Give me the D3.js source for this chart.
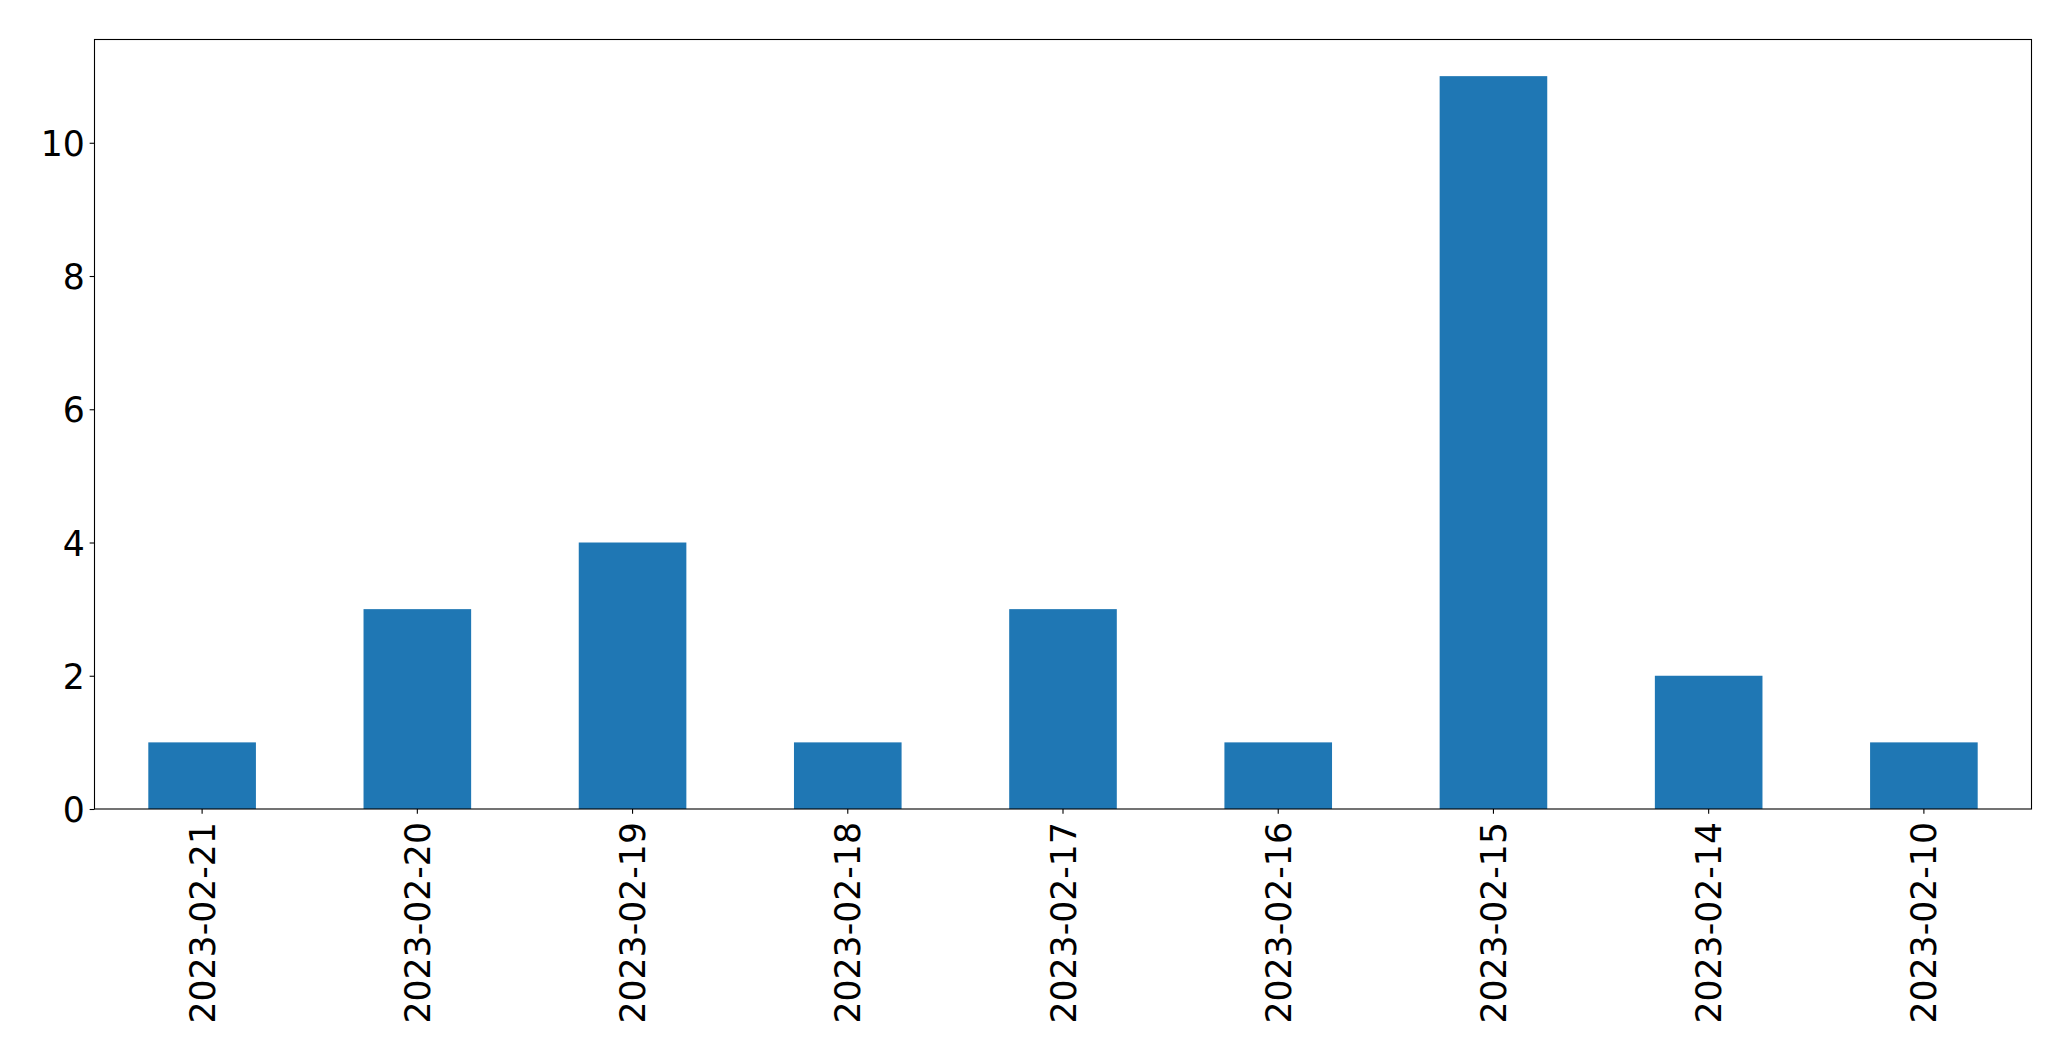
<!DOCTYPE html>
<html><head><meta charset="utf-8">
<script src="https://cdn.jsdelivr.net/npm/d3@7"></script>
<style>html,body{margin:0;padding:0;background:#fff;} svg{display:block;}</style>
</head><body>
<script>
const categories = ["2023-02-21","2023-02-20","2023-02-19","2023-02-18","2023-02-17","2023-02-16","2023-02-15","2023-02-14","2023-02-10"];
const values = [1,3,4,1,3,1,11,2,1];
const yTicks = [0,2,4,6,8,10];

(function(){
const W = 2071, H = 1061;
const mLeft = 94.5, mRight = 2031.5, mTop = 39.5, mBottom = 809;
const fontSize = 34.7;
const font = "'DejaVu Sans', sans-serif";

const svg = d3.select("body").append("svg").attr("width", W).attr("height", H);

const x = d3.scaleBand().domain(categories).range([mLeft, mRight]).paddingInner(0.5).paddingOuter(0.25);
const y = d3.scaleLinear().domain([0, 11.55]).range([mBottom, mTop]);

svg.append("g").selectAll("rect").data(values).join("rect")
  .attr("x", (d,i) => x(categories[i]))
  .attr("width", x.bandwidth())
  .attr("y", d => y(d))
  .attr("height", d => y(0) - y(d))
  .attr("fill", "#1f77b4");

const tickLen = 4.86;
const yAxis = svg.append("g").attr("transform", `translate(${mLeft},0)`)
  .call(d3.axisLeft(y).tickValues(yTicks).tickSize(tickLen).tickPadding(4.86).tickFormat(d3.format("d")));
yAxis.select(".domain").remove();
yAxis.selectAll("line").attr("stroke", "#000").attr("stroke-width", 1.1);
yAxis.selectAll("text").attr("font-family", font).attr("font-size", fontSize).attr("fill", "#000").attr("dy", "0.36em");

const xAxis = svg.append("g").attr("transform", `translate(0,${mBottom})`)
  .call(d3.axisBottom(x).tickSize(tickLen).tickPadding(0));
xAxis.select(".domain").remove();
xAxis.selectAll("line").attr("stroke", "#000").attr("stroke-width", 1.1);
xAxis.selectAll("text")
  .attr("font-family", font).attr("font-size", fontSize).attr("fill", "#000")
  .attr("text-anchor", "end")
  .attr("transform", "translate(0,13) rotate(-90)")
  .attr("x", 0).attr("y", 0).attr("dy", "0.36em");

svg.append("rect").attr("x", mLeft).attr("y", mTop).attr("width", mRight-mLeft).attr("height", mBottom-mTop)
  .attr("fill", "none").attr("stroke", "#000").attr("stroke-width", 1.1);
})();
</script>
</body></html>
